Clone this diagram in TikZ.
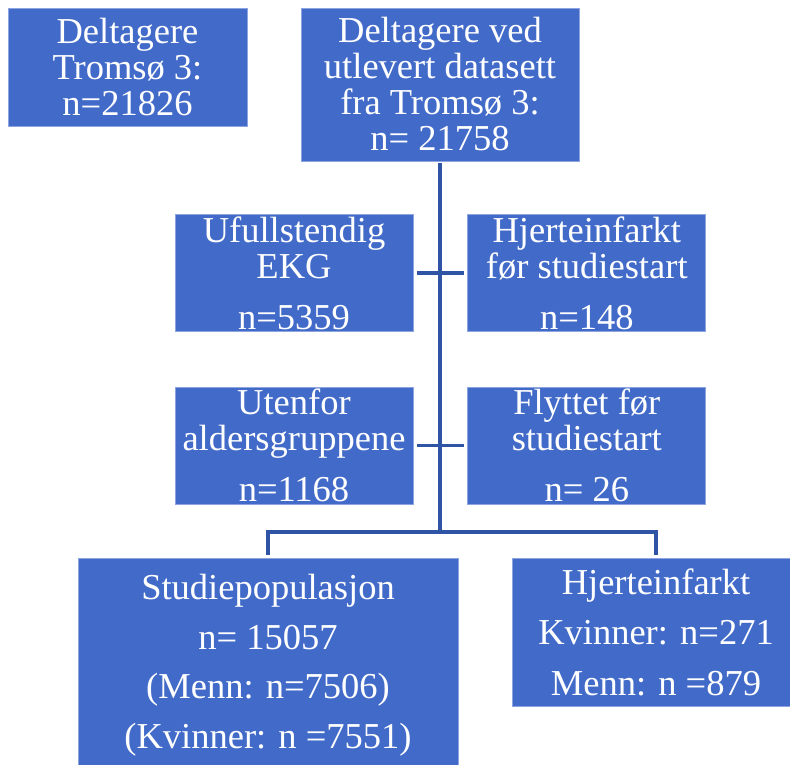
\documentclass[tikz,border=0pt]{standalone}
\usepackage{fontspec}
\setmainfont{Liberation Serif}
\usepackage{xcolor}
\usetikzlibrary{positioning}
\definecolor{boxblue}{RGB}{66,107,201}
\definecolor{boxrim}{RGB}{140,165,225}
\definecolor{linkblue}{RGB}{48,84,165}

\begin{document}
\begin{tikzpicture}[x=1pt, y=-1pt,
  box/.style={draw=boxrim, line width=0.8pt, fill=boxblue, text=white, align=center,
              font=\fontsize{36.5}{36}\selectfont, inner sep=0pt},
  midbox/.style={box, minimum width=238pt, minimum height=117pt},
  conn/.style={draw=linkblue, line width=3.2pt}]
\useasboundingbox (0,0) rectangle (790,764);
\clip (0,0) rectangle (790,764);
% top row
\node[box, minimum width=239pt, minimum height=118pt] (deltag) at (127.5,67) {Deltagere\\ Tromsø 3:\\ n=21826};
\node[box, minimum width=278pt, minimum height=153pt] (utlev) at (440,84.5) {Deltagere ved\\ utlevert datasett\\ fra Tromsø 3:\\ n= 21758};
% exclusions
\node[midbox] (ufull) at (294,273) {Ufullstendig\\ EKG\\[15pt] n=5359};
\node[midbox, right=54pt of ufull] (hjerte) {Hjerteinfarkt\\ før studiestart\\[15pt] n=148};
\node[midbox, below=55pt of ufull] (utenfor) {Utenfor\\ aldersgruppene\\[15pt] n=1168};
\node[midbox, right=54pt of utenfor] (flyttet) {Flyttet før\\ studiestart\\[15pt] n= 26};
% bottom row
\node[box, font=\fontsize{36.5}{49.5}\selectfont, minimum width=380pt, minimum height=214pt] (studie) at (268,665)
  {Studiepopulasjon\\ n= 15057\\ (Menn: n=7506)\\ (Kvinner: n =7551)};
\node[box, font=\fontsize{36.5}{50.5}\selectfont, minimum width=288pt, minimum height=148pt] (infarkt) at (656,632)
  {Hjerteinfarkt\\ Kvinner: n=271\\ Menn: n =879};
\coordinate (split) at (440,532);
\draw[conn, shorten <=2pt] (utlev.south) -- (split);
\draw[conn, shorten <=3.5pt, shorten >=3.5pt] (ufull) -- (hjerte);
\draw[conn, shorten <=3.5pt, shorten >=3.5pt] (utenfor) -- (flyttet);
\draw[conn] ([yshift=3pt]studie.north) |- (split) -| ([yshift=3pt]infarkt.north);
\end{tikzpicture}
\end{document}
